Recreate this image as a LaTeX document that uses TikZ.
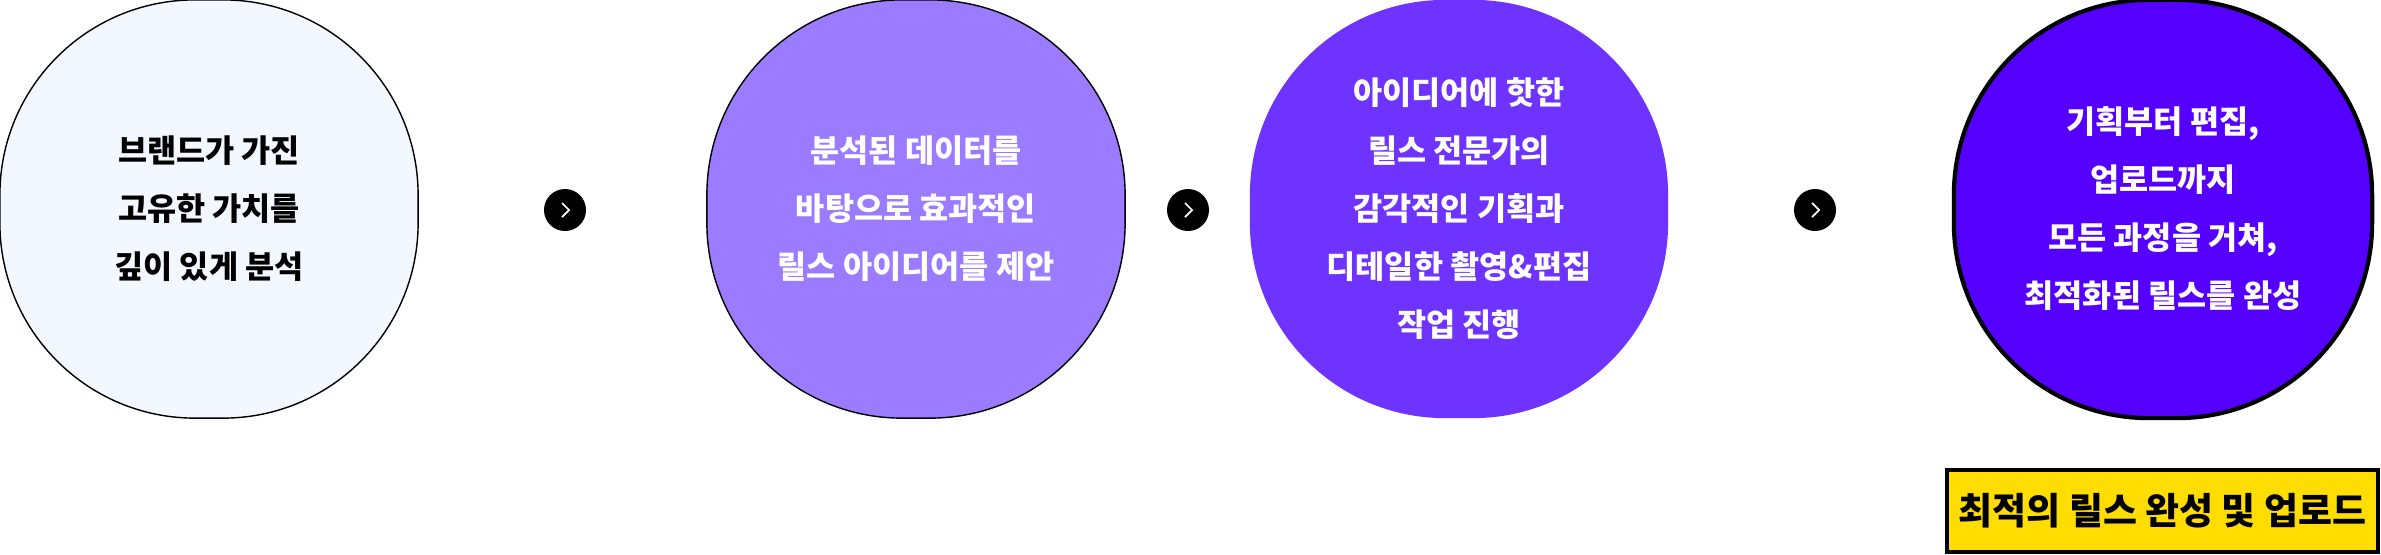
\documentclass[tikz,border=0pt]{standalone}
\usepackage{fontspec}
\setmainfont{Noto Sans CJK KR}
\usetikzlibrary{positioning}
\definecolor{paleblue}{HTML}{F3F7FF}
\definecolor{lilac}{HTML}{9B7BFF}
\definecolor{violet}{HTML}{6E33FF}
\definecolor{deepviolet}{HTML}{5500FF}
\definecolor{signyellow}{HTML}{FFDD00}

\begin{document}
\begin{tikzpicture}[x=0.01cm, y=-0.01cm]
          \tikzstyle{stage} = [rectangle, minimum size=4.18cm, rounded corners=1.95cm,
            align=center, font=\fontsize{9}{16.5}\selectfont\bfseries, inner sep=0pt]
          \tikzstyle{nextbtn} = [circle, fill=black, minimum size=0.42cm, inner sep=0pt]
          \tikzstyle{chevron} = [draw=white, line width=0.5pt]

          \useasboundingbox (0,0) rectangle (2381,554);

          \node[stage, draw, fill=paleblue] (analyse) at (209,209)
            {브랜드가 가진\\고유한 가치를\\깊이 있게 분석};
          \node[stage, draw, fill=lilac, text=white] (propose) at (916,209)
            {분석된 데이터를\\바탕으로 효과적인\\릴스 아이디어를 제안};
          \node[stage, fill=violet, text=white] (produce) at (1459,209)
            {아이디어에 핫한\\릴스 전문가의\\감각적인 기획과\\디테일한 촬영\&편집\\작업 진행};
          \node[stage, draw, line width=1.2pt, fill=deepviolet, text=white] (finish) at (2163,209)
            {기획부터 편집,\\업로드까지\\모든 과정을 거쳐,\\최적화된 릴스를 완성};

          \node[nextbtn] (next1) at (565,210) {};
          \node[nextbtn] (next2) at (1188,210) {};
          \node[nextbtn] (next3) at (1815,210) {};
          \foreach \b in {next1,next2,next3}
            \draw[chevron] ([xshift=-0.03cm,yshift=0.07cm]\b.center) -- ([xshift=0.04cm]\b.center)
              -- ([xshift=-0.03cm,yshift=-0.07cm]\b.center);

          \node[rectangle, draw, line width=1.2pt, fill=signyellow, minimum width=4.31cm,
            minimum height=0.82cm, font=\fontsize{10.5}{12}\selectfont\bfseries] (upload) at (2162.5,511)
            {최적의 릴스 완성 및 업로드};
        \end{tikzpicture}
\end{document}
